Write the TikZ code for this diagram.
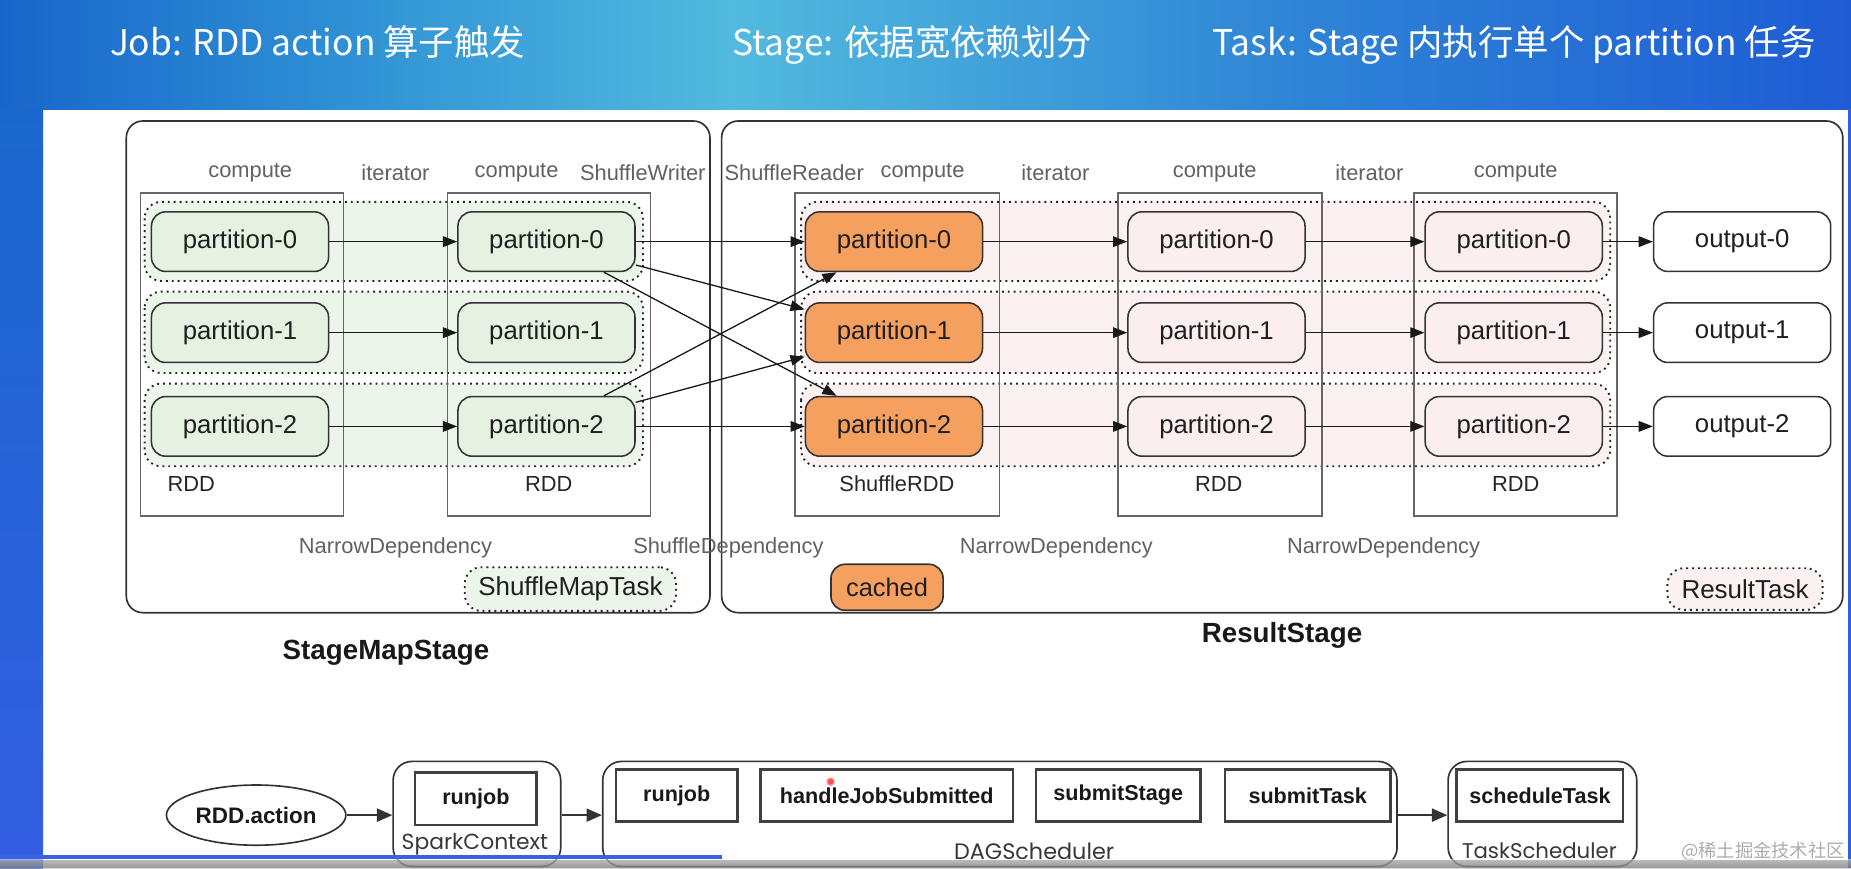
\documentclass[tikz,border=0pt]{standalone}
\usepackage{fontspec}
\setmainfont{Liberation Sans}
\newfontfamily\cjkf{Noto Sans CJK SC}
\newfontfamily\geof{Poppins}
\usetikzlibrary{arrows.meta,shapes.geometric}
\definecolor{bandG}{RGB}{236,245,233}
\definecolor{partG}{RGB}{229,242,225}
\definecolor{bandP}{RGB}{251,241,241}
\definecolor{partP}{RGB}{251,238,238}
\definecolor{orng}{RGB}{246,160,96}
\definecolor{blA}{RGB}{24,102,202}
\definecolor{blB}{RGB}{50,150,214}
\definecolor{blC}{RGB}{82,186,222}
\definecolor{blD}{RGB}{46,132,214}
\definecolor{blE}{RGB}{30,92,212}
\definecolor{stripT}{RGB}{26,104,206}
\definecolor{stripB}{RGB}{52,94,226}
\definecolor{prog}{RGB}{60,95,232}
\begin{document}
\begin{tikzpicture}[x=1pt,y=-1pt,
  title/.style={text=white, font=\cjkf\fontsize{30}{34}\selectfont, inner sep=0pt, anchor=base west},
  stagebox/.style={draw=black!80, line width=1.4pt, rounded corners=14pt},
  bandline/.style={draw=black!85, line width=1.6pt, dash pattern=on 1.6pt off 3.4pt, rounded corners=14pt},
  rddbox/.style={draw=black!60, line width=1.4pt},
  part/.style={draw=black!80, line width=1.3pt, rounded corners=12pt, minimum width=150pt, minimum height=50.5pt, inner sep=0pt, text=black!88, font=\fontsize{21.8}{26}\selectfont},
  arr/.style={-{Triangle[length=12pt,width=9pt]}, line width=1.1pt, draw=black!90},
  lbl/.style={text=black!62, font=\fontsize{18.5}{22}\selectfont, inner sep=0pt},
  rddlbl/.style={text=black!85, font=\fontsize{18.5}{22}\selectfont, inner sep=0pt},
  taskbox/.style={draw=black!85, line width=1.6pt, dash pattern=on 1.6pt off 3.4pt, rounded corners=14pt, inner sep=0pt, text=black!88, font=\fontsize{22}{26}\selectfont},
  stitle/.style={font=\bfseries\fontsize{23.5}{28}\selectfont, text=black!90, inner sep=0pt},
  outerbox/.style={draw=black!80, line width=1.4pt, rounded corners=16pt, inner sep=0pt},
  innerbox/.style={draw=black!75, line width=2.2pt, inner sep=0pt, text=black!90, font=\bfseries\fontsize{18.3}{22}\selectfont, minimum height=44.4pt},
  bigarr/.style={-{Triangle[length=13pt,width=11pt]}, line width=1.8pt, draw=black!80},
  geolbl/.style={text=black!78, inner sep=0pt}
]
\useasboundingbox (0,0) rectangle (1568,735.3);
% ---------- background ----------
\fill[white] (0,0) rectangle (1568,735.3);
\fill[left color=blA, right color=blB] (0,0) rectangle (330.5,93);
\fill[left color=blB, right color=blC] (330,0) rectangle (620.5,93);
\fill[left color=blC, right color=blD] (620,0) rectangle (1100.5,93);
\fill[left color=blD, right color=blE] (1100,0) rectangle (1568,93);
\fill[top color=stripT, bottom color=stripB] (0,92.5) rectangle (36.5,735.3);
\fill[stripB] (1565.5,92.5) rectangle (1568,735.3);
% ---------- titles ----------
\node[title] (t1) at (93,46.6) {Job: RDD action 算子触发};
\node[title] (t2) at (620,46.6) {Stage: 依据宽依赖划分};
\node[title] (t3) at (1027,46.6) {Task: Stage 内执行单个 partition 任务};
% ---------- stage boxes ----------
\draw[stagebox] (107,102.5) rectangle (601.4,519);
\draw[stagebox] (611.3,102.5) rectangle (1561,519);
% ---------- task bands ----------
\foreach \ya/\yb in {171/238, 247/316, 325/395} {
  \draw[bandline, fill=bandG] (122.5,\ya) rectangle (544.7,\yb);
  \draw[bandline, fill=bandP] (678.6,\ya) rectangle (1364,\yb);
}
% ---------- RDD boxes ----------
\foreach \xa/\xb in {119/291, 379.2/551.1, 673.5/846.6, 946.9/1119.9, 1198/1370}
  \draw[rddbox] (\xa,163.5) rectangle (\xb,437);
\node[rddlbl] (r1) at (162,410) {RDD};
\node[rddlbl] (r2) at (464.8,410) {RDD};
\node[rddlbl] (r3) at (759.8,410) {ShuffleRDD};
\node[rddlbl] (r4) at (1032.5,410) {RDD};
\node[rddlbl] (r5) at (1284,410) {RDD};
% ---------- column labels ----------
\node[lbl] (l1) at (212,146.5) {compute};
\node[lbl] (l2) at (335,146.5) {iterator};
\node[lbl] (l3) at (437.6,146.5) {compute};
\node[lbl] (l4) at (544.5,146.5) {ShuffleWriter};
\node[lbl] (l5) at (672.8,146.5) {ShuffleReader};
\node[lbl] (l6) at (781.5,146.5) {compute};
\node[lbl] (l7) at (894,146.5) {iterator};
\node[lbl] (l8) at (1029,146.5) {compute};
\node[lbl] (l9) at (1160,146.5) {iterator};
\node[lbl] (l10) at (1284,146.5) {compute};
% ---------- dependency labels ----------
\node[lbl] (d1) at (335,464.5) {NarrowDependency};
\node[lbl] (d2) at (617,464.5) {ShuffleDependency};
\node[lbl] (d3) at (894.8,464.5) {NarrowDependency};
\node[lbl] (d4) at (1172,464.5) {NarrowDependency};
% ---------- partitions ----------
\foreach \i/\y in {0/204.7, 1/281.8, 2/361.2} {
  \node[part, fill=partG] (a\i) at (203.3,\y) {partition-\i};
  \node[part, fill=partG] (b\i) at (462.9,\y) {partition-\i};
  \node[part, fill=orng]  (c\i) at (757.3,\y) {partition-\i};
  \node[part, fill=partP] (d\i) at (1030.5,\y) {partition-\i};
  \node[part, fill=partP] (e\i) at (1282.3,\y) {partition-\i};
  \node[part, fill=white] (o\i) at (1475.8,\y) {output-\i};
}
% ---------- arrows ----------
\foreach \i in {0,1,2} {
  \draw[arr] (a\i) -- (b\i);
  \draw[arr] (c\i) -- (d\i);
  \draw[arr] (d\i) -- (e\i);
  \draw[arr] (e\i) -- (o\i);
}
\draw[arr] (b0) -- (c0);
\draw[arr] (b0) -- (c1);
\draw[arr] (b0) -- (c2);
\draw[arr] (b2) -- (c0);
\draw[arr] (b2) -- (c1);
\draw[arr] (b2) -- (c2);
% ---------- task labels ----------
\node[taskbox, fill=bandG, minimum width=179pt, minimum height=37pt] (smt) at (483.2,499) {ShuffleMapTask};
\node[draw=black!80, line width=1.4pt, rounded corners=12pt, fill=orng, minimum width=95pt, minimum height=39pt, inner sep=0pt, text=black!88, font=\fontsize{21.5}{26}\selectfont] (cached) at (751.4,497.5) {cached};
\node[taskbox, fill=bandP, minimum width=131.6pt, minimum height=35.3pt] (rt) at (1478.2,499) {ResultTask};
\node[stitle] (s1) at (327,553) {StageMapStage};
\node[stitle] (s2) at (1086,538.5) {ResultStage};
% ---------- bottom flow ----------
\node[ellipse, draw=black!80, line width=1.4pt, minimum width=152pt, minimum height=51pt, inner sep=0pt, font=\bfseries\fontsize{19}{22}\selectfont, text=black!90] (act) at (217,690.5) {RDD.action};
\node[outerbox, minimum width=142pt, minimum height=89pt] (sc) at (404,689.5) {};
\node[outerbox, minimum width=672.9pt, minimum height=89pt] (dag) at (847,689.5) {};
\node[outerbox, minimum width=159.8pt, minimum height=89pt] (ts) at (1306.6,689.5) {};
\node[innerbox, minimum width=103pt] (rj1) at (403.1,676.8) {runjob};
\node[innerbox, minimum width=103pt] (rj2) at (573.3,673.8) {runjob};
\node[innerbox, minimum width=213.7pt] (hjs) at (751.2,673.8) {handleJobSubmitted};
\node[innerbox, minimum width=139.4pt] (sst) at (947.3,673.8) {submitStage};
\node[innerbox, minimum width=140.4pt] (stk) at (1107.8,673.8) {submitTask};
\node[innerbox, minimum width=141pt] (sct) at (1304.5,673.8) {scheduleTask};
\node[geolbl] (scl) at (402.3,715) {\resizebox{124pt}{!}{\geof SparkContext}};
\node[geolbl] (dagl) at (876,721) {\resizebox{135.7pt}{!}{\geof DAGScheduler}};
\node[geolbl] (tsl) at (1304,721) {\resizebox{131pt}{!}{\geof TaskScheduler}};
\draw[bigarr] (act.east) -- (act.east -| sc.west);
\draw[bigarr] (sc.east |- act.east) -- (act.east -| dag.west);
\draw[bigarr] (dag.east |- act.east) -- (act.east -| ts.west);
% pointer dot
\node[circle, draw=red!45, line width=1pt, fill=red!70, minimum size=6pt, inner sep=0pt] (dot) at (703.6,662.2) {};
% watermark
\node[anchor=east, text=black!32, inner sep=0pt, font=\cjkf\fontsize{15.5}{18}\selectfont] (wm) at (1563,721.5) {@稀土掘金技术社区};
% video bar
\fill[prog] (0,724) rectangle (612,727.5);
\fill[top color=black!4, bottom color=black!28, opacity=0.55] (0,728.5) rectangle (1568,735.3);
\end{tikzpicture}
\end{document}
